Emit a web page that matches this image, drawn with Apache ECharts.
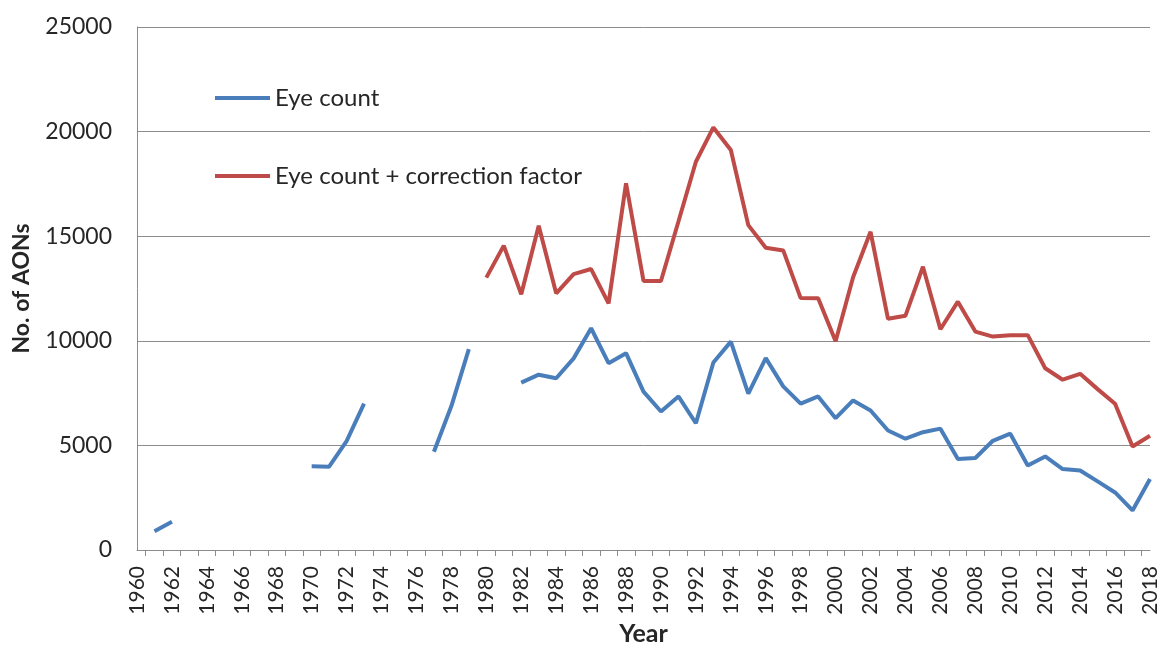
<!DOCTYPE html>
<html>
<head>
<meta charset="utf-8">
<script src="https://cdn.jsdelivr.net/npm/echarts@6/dist/echarts.min.js"></script>
<style>
  html, body { margin: 0; padding: 0; background: #fff; }
  #main { width: 1160px; height: 645px; }
</style>
</head>
<body>
<div id="main"></div>
<script>
// years 1960..2018
var years = [];
for (var y = 1960; y <= 2018; y++) years.push(y);

// null = no survey that year
var eyeCount = [
  null, 900, 1350, null, null, null, null, null, null, null,        // 1960-69
  4000, 3980, 5200, 7000, null, null, null, 4700, 6880, 9600,      // 1970-79
  null, null, 8000, 8380, 8210, 9160, 10600, 8930, 9410, 7570,     // 1980-89
  6620, 7340, 6060, 8960, 9960, 7480, 9170, 7820, 7000, 7340,      // 1990-99
  6300, 7150, 6670, 5710, 5320, 5630, 5800, 4350, 4400, 5220,      // 2000-09
  5560, 4040, 4470, 3870, 3800, 3280, 2750, 1890, 3390             // 2010-18
];

var eyeCountCorrected = [
  null, null, null, null, null, null, null, null, null, null,
  null, null, null, null, null, null, null, null, null, null,
  13020, 14550, 12220, 15500, 12270, 13190, 13430, 11790, 17530, 12860,
  12860, 15700, 18560, 20200, 19120, 15530, 14450, 14320, 12040, 12030,
  9980, 13040, 15210, 11050, 11200, 13540, 10550, 11870, 10440, 10200,
  10270, 10270, 8690, 8140, 8420, 7690, 6990, 4950, 5460
];

// labels every 2nd year, ticks half way between years (like the excel chart)
var labelYears = years.filter(function (v) { return v % 2 === 0; });
var tickPos = years.slice(0, -1).map(function (v) { return v + 0.5; });

function pairs(vals) {
  return years.map(function (yr, i) {
    return [yr, vals[i] == null ? '-' : vals[i]];
  });
}

var chart = echarts.init(document.getElementById('main'));
var txt = '#262626';
var axisCol = '#8c8c8c';
var font = 'Lato, "Open Sans", sans-serif';

chart.setOption({
  animation: false,
  textStyle: { fontFamily: font },
  grid: { left: 137, right: 10, top: 27, bottom: 95, outerBoundsMode: 'none' },
  legend: {
    orient: 'vertical',
    left: 215,
    top: 86,
    padding: 0,
    icon: 'rect',
    itemWidth: 55,
    itemHeight: 4,
    itemGap: 54,
    textStyle: { fontSize: 24, color: txt, fontFamily: font, padding: [0, 0, 0, 0] },
    data: ['Eye count', 'Eye count + correction factor']
  },
  xAxis: {
    type: 'value',
    min: 1960,
    max: 2018,
    name: 'Year',
    nameLocation: 'middle',
    nameGap: 71,
    nameMoveOverlap: false,
    nameTextStyle: { fontSize: 25, fontWeight: 'bold', color: txt },
    axisLine: { show: true, onZero: false, lineStyle: { color: axisCol, width: 1 } },
    axisTick: { show: true, length: 6, customValues: tickPos, lineStyle: { color: axisCol } },
    axisLabel: {
      rotate: 90, fontSize: 21, color: txt, margin: 16,
      customValues: labelYears,
      formatter: function (v) { return String(v); }
    },
    splitLine: { show: false }
  },
  yAxis: {
    type: 'value',
    min: 0,
    max: 25000,
    interval: 5000,
    name: 'No. of AONs',
    nameLocation: 'middle',
    nameGap: 104,
    nameMoveOverlap: false,
    nameTextStyle: { fontSize: 23, fontWeight: 'bold', color: txt },
    axisLine: { show: true, lineStyle: { color: axisCol, width: 1 } },
    axisTick: { show: false },
    axisLabel: { fontSize: 23, color: txt, margin: 25, formatter: function (v) { return String(v); } },
    splitLine: { lineStyle: { color: axisCol, width: 1 } }
  },
  series: [
    {
      name: 'Eye count',
      type: 'line',
      data: pairs(eyeCount),
      symbol: 'none',
      connectNulls: false,
      lineStyle: { color: '#4a7ebb', width: 4 },
      itemStyle: { color: '#4a7ebb' }
    },
    {
      name: 'Eye count + correction factor',
      type: 'line',
      data: pairs(eyeCountCorrected),
      symbol: 'none',
      connectNulls: false,
      lineStyle: { color: '#be4b48', width: 4 },
      itemStyle: { color: '#be4b48' }
    }
  ]
});
</script>
</body>
</html>
